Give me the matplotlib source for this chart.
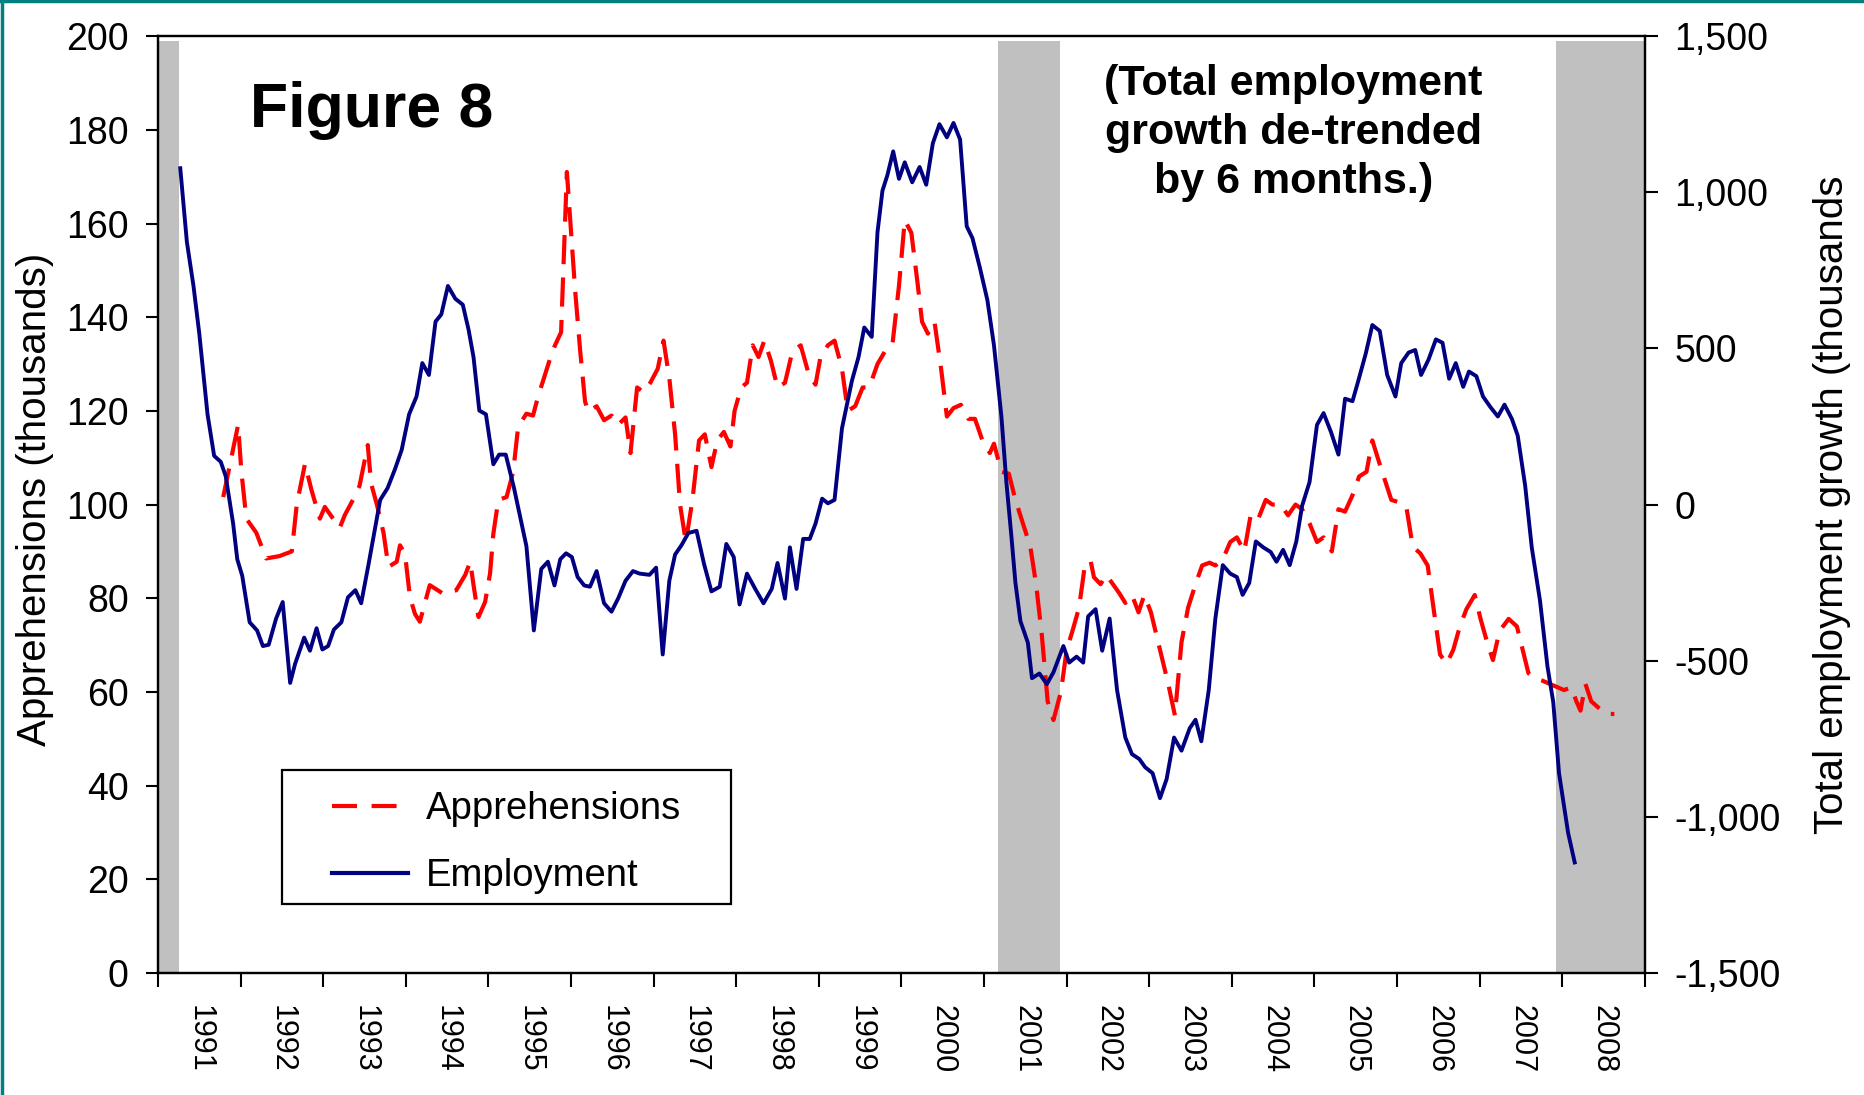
import matplotlib
matplotlib.use('Agg')
import matplotlib.pyplot as plt
from matplotlib.lines import Line2D
from matplotlib.patches import Rectangle
from matplotlib.ticker import FixedLocator, FuncFormatter, NullFormatter

plt.rcParams['font.family'] = ['Liberation Sans', 'DejaVu Sans']

# Employment growth, de-trended by 6 months (thousands)
emp_t = [1991.27, 1991.35, 1991.43, 1991.50, 1991.60, 1991.68, 1991.76, 1991.82, 1991.91, 1991.96,
         1992.02, 1992.11, 1992.20, 1992.27, 1992.34, 1992.43, 1992.51, 1992.60, 1992.66, 1992.77,
         1992.84, 1992.92, 1992.99, 1993.06, 1993.13, 1993.22, 1993.30, 1993.39, 1993.46, 1993.55,
         1993.69, 1993.78, 1993.87, 1993.95, 1994.04, 1994.13, 1994.20, 1994.28, 1994.36, 1994.43,
         1994.51, 1994.60, 1994.69, 1994.76, 1994.82, 1994.89, 1994.97, 1995.06, 1995.13, 1995.21,
         1995.31, 1995.46, 1995.55, 1995.64, 1995.72, 1995.80, 1995.87, 1995.94, 1996.01, 1996.08,
         1996.16, 1996.23, 1996.31, 1996.40, 1996.49, 1996.57, 1996.66, 1996.75, 1996.83, 1996.95,
         1997.03, 1997.11, 1997.19, 1997.26, 1997.34, 1997.42, 1997.52, 1997.61, 1997.70, 1997.80,
         1997.88, 1997.97, 1998.04, 1998.13, 1998.23, 1998.33, 1998.43, 1998.50, 1998.59, 1998.65,
         1998.73, 1998.81, 1998.89, 1998.96, 1999.04, 1999.11, 1999.19, 1999.28, 1999.40, 1999.48,
         1999.55, 1999.64, 1999.71, 1999.77, 1999.83, 1999.90, 1999.97, 2000.04, 2000.13, 2000.22,
         2000.30, 2000.38, 2000.46, 2000.55, 2000.63, 2000.71, 2000.79, 2000.86, 2000.95, 2001.04,
         2001.12, 2001.21, 2001.27, 2001.33, 2001.38, 2001.44, 2001.53, 2001.58, 2001.67, 2001.76,
         2001.84, 2001.96, 2002.03, 2002.12, 2002.20, 2002.26, 2002.35, 2002.43, 2002.52, 2002.61,
         2002.71, 2002.79, 2002.88, 2002.95, 2003.04, 2003.13, 2003.21, 2003.30, 2003.39, 2003.49,
         2003.56, 2003.63, 2003.72, 2003.80, 2003.89, 2003.98, 2004.06, 2004.13, 2004.21, 2004.29,
         2004.38, 2004.47, 2004.54, 2004.62, 2004.70, 2004.78, 2004.85, 2004.94, 2005.03, 2005.11,
         2005.20, 2005.29, 2005.37, 2005.46, 2005.53, 2005.62, 2005.70, 2005.79, 2005.88, 2005.98,
         2006.05, 2006.14, 2006.22, 2006.29, 2006.38, 2006.47, 2006.55, 2006.63, 2006.71, 2006.80,
         2006.87, 2006.96, 2007.04, 2007.13, 2007.22, 2007.30, 2007.39, 2007.46, 2007.55, 2007.63,
         2007.73, 2007.82, 2007.89, 2007.96, 2008.07, 2008.15]
emp_v = [1077, 841, 700, 548, 289, 156, 137, 91, -61, -175,
         -228, -377, -403, -453, -449, -365, -312, -571, -510, -426,
         -468, -396, -464, -453, -400, -377, -297, -274, -316, -190,
         15, 53, 114, 175, 289, 346, 453, 415, 586, 609,
         700, 659, 640, 560, 472, 301, 289, 129, 160, 160,
         53, -133, -403, -206, -183, -259, -175, -156, -168, -232,
         -259, -263, -213, -316, -343, -301, -244, -213, -221, -225,
         -202, -480, -244, -160, -129, -91, -84, -190, -278, -263,
         -126, -168, -320, -221, -270, -316, -270, -187, -301, -137,
         -270, -110, -110, -61, 19, 4, 15, 244, 396, 472,
         567, 537, 872, 1005, 1055, 1131, 1043, 1096, 1032, 1081,
         1024, 1157, 1218, 1176, 1222, 1169, 891, 853, 758, 655,
         510, 282, 72, -99, -251, -373, -442, -556, -541, -575,
         -537, -453, -506, -487, -506, -358, -335, -468, -365, -594,
         -746, -799, -815, -841, -860, -940, -879, -746, -788, -716,
         -689, -758, -594, -365, -194, -221, -232, -289, -251, -118,
         -137, -152, -183, -145, -194, -118, -4, 72, 255, 293,
         232, 160, 339, 331, 396, 483, 575, 556, 415, 346,
         453, 487, 495, 415, 464, 529, 518, 403, 453, 377,
         426, 411, 346, 312, 282, 320, 274, 221, 61, -137,
         -308, -518, -632, -860, -1051, -1146]

# Apprehensions (thousands)
app_t = [1991.79, 1991.97, 1992.01, 1992.07, 1992.19, 1992.31, 1992.47, 1992.62, 1992.68, 1992.78,
         1992.86, 1992.96, 1993.02, 1993.20, 1993.26, 1993.36, 1993.44, 1993.54, 1993.58, 1993.65,
         1993.73, 1993.79, 1993.89, 1993.93, 1993.99, 1994.05, 1994.11, 1994.17, 1994.29, 1994.45,
         1994.61, 1994.72, 1994.78, 1994.82, 1994.88, 1994.96, 1995.02, 1995.06, 1995.12, 1995.22,
         1995.30, 1995.36, 1995.46, 1995.54, 1995.60, 1995.78, 1995.88, 1995.95, 1996.05, 1996.11,
         1996.17, 1996.21, 1996.31, 1996.40, 1996.49, 1996.57, 1996.66, 1996.72, 1996.80, 1996.88,
         1996.96, 1997.05, 1997.12, 1997.19, 1997.26, 1997.32, 1997.39, 1997.47, 1997.55, 1997.62,
         1997.70, 1997.77, 1997.85, 1997.93, 1997.98, 1998.06, 1998.13, 1998.20, 1998.27, 1998.34,
         1998.42, 1998.50, 1998.59, 1998.68, 1998.78, 1998.88, 1998.96, 1999.02, 1999.11, 1999.19,
         1999.28, 1999.35, 1999.44, 1999.53, 1999.61, 1999.71, 1999.80, 1999.89, 1999.97, 2000.04,
         2000.12, 2000.19, 2000.25, 2000.32, 2000.40, 2000.48, 2000.55, 2000.63, 2000.72, 2000.81,
         2000.89, 2000.98, 2001.07, 2001.12, 2001.21, 2001.30, 2001.38, 2001.47, 2001.56, 2001.63,
         2001.70, 2001.77, 2001.84, 2001.93, 2002.00, 2002.07, 2002.15, 2002.22, 2002.29, 2002.33,
         2002.41, 2002.48, 2002.56, 2002.64, 2002.71, 2002.79, 2002.87, 2002.94, 2003.02, 2003.13,
         2003.23, 2003.31, 2003.39, 2003.47, 2003.56, 2003.64, 2003.73, 2003.80, 2003.89, 2003.98,
         2004.06, 2004.15, 2004.23, 2004.32, 2004.41, 2004.49, 2004.59, 2004.68, 2004.77, 2004.85,
         2004.94, 2005.03, 2005.11, 2005.21, 2005.29, 2005.37, 2005.46, 2005.54, 2005.63, 2005.70,
         2005.79, 2005.86, 2005.93, 2006.02, 2006.11, 2006.19, 2006.28, 2006.37, 2006.44, 2006.52,
         2006.60, 2006.68, 2006.76, 2006.84, 2006.94, 2007.01, 2007.09, 2007.16, 2007.24, 2007.35,
         2007.45, 2007.52, 2007.59, 2007.66, 2007.76, 2007.85, 2007.94, 2008.02, 2008.11, 2008.17,
         2008.22, 2008.28, 2008.35, 2008.44, 2008.53, 2008.63]
app_v = [101.6, 117, 107, 97, 94, 88.5, 89, 90, 100, 108.7,
         103, 97, 99.5, 95, 97.7, 101, 104, 112.7, 104.5, 100,
         94, 86.7, 87.8, 91.3, 89.5, 80.3, 76.7, 75, 82.8, 81,
         81.7, 85, 87.8, 82.8, 76, 79.2, 85.3, 93.8, 101, 101.6,
         107, 116.6, 119.4, 119, 123, 133, 136.8, 171, 145.7, 133,
         122, 119.8, 121, 118, 119, 117, 118.6, 111, 125, 124,
         126, 129, 135, 127, 115, 100, 92, 101, 113.7, 115,
         108, 113.7, 115.5, 112.4, 120, 125, 126, 134, 131.5, 135,
         130.7, 125, 126, 132.7, 134, 127.7, 125.6, 131.5, 134, 135,
         129, 120, 121, 125, 125, 130, 132.7, 134, 146.7, 160.7,
         158, 148, 139, 136.5, 139, 129, 118.8, 120.6, 121.3, 118.3,
         118.3, 113.7, 111, 113, 107, 106.6, 101, 96, 91, 83,
         72, 58, 54, 60, 69, 73, 78, 87, 88, 84.5,
         83, 85, 83, 81, 79, 80.7, 77, 80.7, 77, 69,
         61.7, 55, 70.6, 78, 83, 87, 87.6, 87, 88.3, 92,
         93, 90, 98, 97, 101, 100, 100, 97.7, 100, 99,
         96, 92, 93, 90, 99, 98.5, 102, 106, 107, 113.7,
         108.6, 104.8, 101, 100.5, 99.7, 91, 89.6, 87, 78, 68,
         66, 69, 74, 77.7, 80.7, 75.6, 70.6, 66.8, 73, 75.6,
         74, 69, 64, 63, 62.4, 61.7, 61, 60.4, 61, 58,
         56, 61.7, 58, 56.6, 55.3, 55.3]

years = list(range(1991, 2009))
recessions = [(1991.0, 1991.25), (2001.17, 2001.92), (2007.92, 2009.0)]

fig = plt.figure(figsize=(18.65, 10.95), dpi=100)
ax = fig.add_axes([0.0847, 0.1114, 0.7973, 0.8556])
ax2 = ax.twinx()

# recession shading
for start, end in recessions:
    ax.axvspan(start, end, ymin=0, ymax=0.995, color='#C0C0C0', lw=0, zorder=0)

ax.plot(app_t, app_v, color='#FF0000', lw=3.0, dashes=(7, 3.2), label='Apprehensions', zorder=3)
ax2.plot(emp_t, emp_v, color='#000080', lw=2.8, label='Employment', zorder=3)

ax.set_xlim(1991, 2009)
ax.set_ylim(0, 200)
ax2.set_ylim(-1500, 1500)

ax.set_yticks(range(0, 201, 20))
ax2.set_yticks(range(-1500, 1501, 500))
ax2.yaxis.set_major_formatter(FuncFormatter(lambda v, p: f"{v:,.0f}"))

ax.xaxis.set_major_locator(FixedLocator(years + [2009]))
ax.xaxis.set_major_formatter(NullFormatter())
ax.xaxis.set_minor_locator(FixedLocator([y + 0.5 for y in years]))
ax.set_xticklabels([str(y) for y in years], minor=True, rotation=-90)

ax.tick_params(axis='x', which='major', direction='out', length=10, width=1.5)
ax.tick_params(axis='x', which='minor', length=0, pad=23, labelsize=22)
ax.tick_params(axis='y', direction='out', length=9, width=1.5, pad=12, labelsize=27)
ax2.tick_params(axis='y', direction='out', length=9, width=1.5, pad=12, labelsize=27)

for a in (ax, ax2):
    for s in a.spines.values():
        s.set_linewidth(1.6)

ax.set_ylabel('Apprehensions (thousands)', fontsize=29)
ax.yaxis.set_label_coords(-0.07, 0.506)
ax2.set_ylabel('Total employment growth (thousands', fontsize=29)
ax2.yaxis.set_label_coords(1.113, 0.5)

ax.text(0.062, 0.903, 'Figure 8', transform=ax.transAxes, fontsize=45,
        fontweight='bold', ha='left', va='baseline')
ax.text(0.7636, 0.8966, '(Total employment\ngrowth de-trended\nby 6 months.)',
        transform=ax.transAxes, fontsize=31, fontweight='bold',
        ha='center', va='center', linespacing=1.3)

# legend with its own box
box = Rectangle((0.0834, 0.0736), 0.3019, 0.143, transform=ax.transAxes,
                facecolor='white', edgecolor='black', lw=1.6, zorder=5)
ax2.add_patch(box)
handles = [Line2D([], [], color='#FF0000', lw=3, dashes=(6, 3.5)),
           Line2D([], [], color='#000080', lw=3)]
leg = ax2.legend(handles, ['Apprehensions', 'Employment'], loc='center',
                 bbox_to_anchor=(0.0834 + 0.3019 / 2, 0.0736 + 0.143 / 2 - 0.006),
                 bbox_transform=ax.transAxes, frameon=False, fontsize=27.5,
                 handlelength=2.0, handletextpad=0.45, labelspacing=0.8)
leg.set_zorder(6)

# teal border on top and left edges
fig.add_artist(Line2D([0.001, 0.001], [0, 1], transform=fig.transFigure, color='#008080', lw=2.5))
fig.add_artist(Line2D([0, 1], [0.999, 0.999], transform=fig.transFigure, color='#008080', lw=2.5))

fig.savefig('out.png', dpi=100)
